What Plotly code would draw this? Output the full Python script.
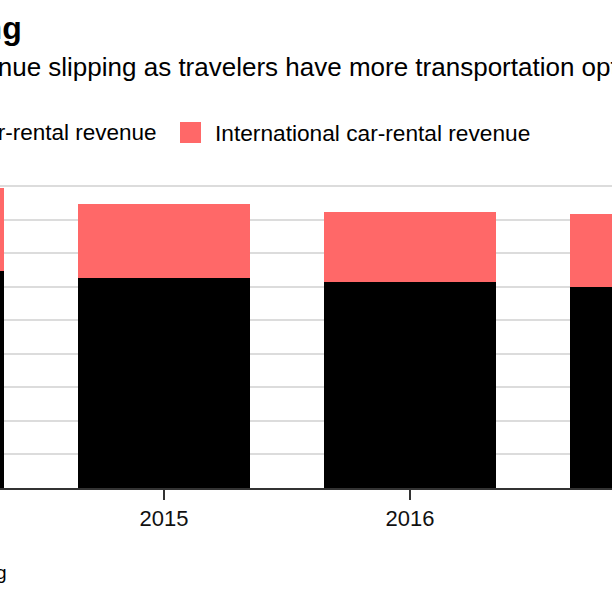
import plotly.graph_objects as go

# ---- data ----
years = ["2014", "2015", "2016", "2017"]
us_revenue = [6470, 6270, 6130, 6000]          # U.S. car-rental revenue ($M, est.)
intl_revenue = [2460, 2190, 2090, 2170]        # International car-rental revenue ($M, est.)
series_names = ["U.S. car-rental revenue", "International car-rental revenue"]
series_colors = ["#000000", "#ff6868"]
title_text = "Hertz Is Slipping"
subtitle_text = "Hertz's U.S. car-rental revenue slipping as travelers have more transportation options"
source_text = "Source: Bloomberg"

FONT = "Liberation Sans, Arial, Helvetica, sans-serif"
W = H = 612
ML, MR, MT, MB = 0, 0, 180, 124
PW = W - ML - MR
PH = H - MT - MB
Y_TOP = 9000 * PH / (PH - 6)   # keeps the 9000 gridline a few pixels inside the plot area


def px(x):
    return (x - ML) / PW


def py(y):
    return (H - MB - y) / PH


fig = go.Figure()
for name, vals, col in zip(series_names, [us_revenue, intl_revenue], series_colors):
    fig.add_trace(go.Bar(x=years, y=vals, name=name, marker=dict(color=col, line=dict(width=0)),
                         width=0.7, showlegend=False))

annotations = [
    dict(text="<b>" + title_text + "</b>", x=px(24), y=py(28), xref="paper", yref="paper",
         xanchor="right", yanchor="middle", showarrow=False, font=dict(size=32, color="#000", family=FONT)),
    dict(text=subtitle_text, x=px(667), y=py(67), xref="paper", yref="paper",
         xanchor="right", yanchor="middle", showarrow=False, font=dict(size=26, color="#000", family=FONT)),
    dict(text=series_names[0], x=px(159), y=py(132.5), xref="paper", yref="paper",
         xanchor="right", yanchor="middle", showarrow=False, font=dict(size=22.5, color="#000", family=FONT)),
    dict(text=series_names[1], x=px(213), y=py(132.5), xref="paper", yref="paper",
         xanchor="left", yanchor="middle", showarrow=False, font=dict(size=22.7, color="#000", family=FONT)),
    dict(text=source_text, x=px(9), y=py(572), xref="paper", yref="paper",
         xanchor="right", yanchor="middle", showarrow=False, font=dict(size=19, color="#000", family=FONT)),
]

shapes = [
    dict(type="rect", xref="paper", yref="paper", x0=px(-112), x1=px(-91), y0=py(143), y1=py(122),
         fillcolor=series_colors[0], line=dict(width=0)),
    dict(type="rect", xref="paper", yref="paper", x0=px(180), x1=px(201), y0=py(143), y1=py(122),
         fillcolor=series_colors[1], line=dict(width=0)),
]

fig.update_layout(
    width=W, height=H,
    margin=dict(l=ML, r=MR, t=MT, b=MB, pad=0),
    barmode="stack",
    bargap=0.3,
    plot_bgcolor="white", paper_bgcolor="white",
    font=dict(family=FONT, color="#000"),
    annotations=annotations,
    shapes=shapes,
    xaxis=dict(type="category", range=[1 - 164 / 246, 1 - 164 / 246 + 612 / 246],
               showline=True, linecolor="#333333", linewidth=1.5,
               ticks="outside", ticklen=10, tickwidth=1.5, tickcolor="#333333",
               tickfont=dict(size=22, color="#111", family=FONT),
               showgrid=False, automargin=False, fixedrange=True),
    yaxis=dict(range=[0, Y_TOP], tickvals=list(range(1000, 10000, 1000)), showgrid=True,
               gridcolor="#dcdcdc", gridwidth=2,
               zeroline=False, showticklabels=False, ticks="", automargin=False, fixedrange=True),
)

fig.write_html("out.html")
